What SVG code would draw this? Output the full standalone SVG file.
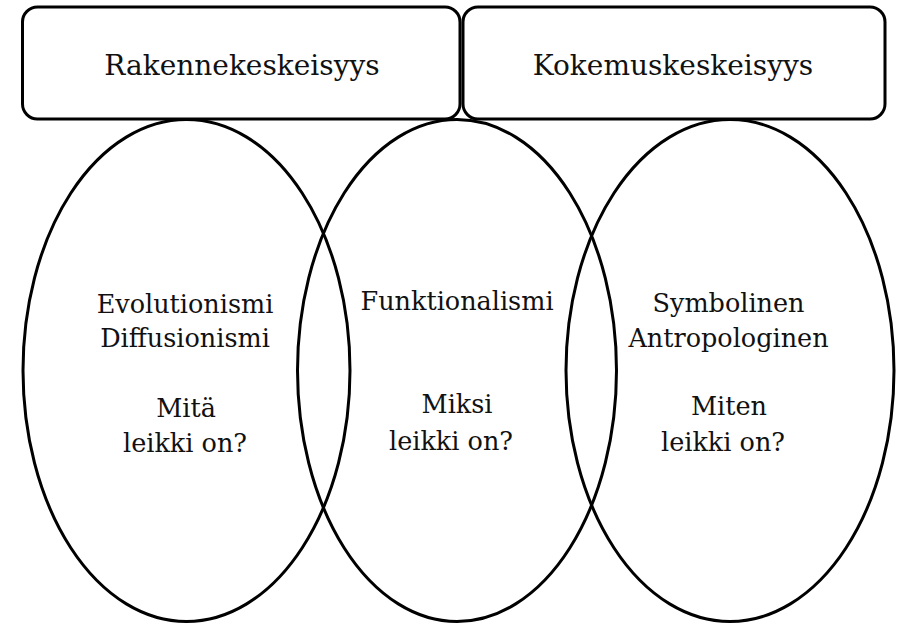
<svg xmlns="http://www.w3.org/2000/svg" width="899" height="624" viewBox="0 0 899 624">
<style>
.box{fill:#fff;stroke:#000;stroke-width:3}
.ell{fill:none;stroke:#000;stroke-width:3}
.t{font-family:"DejaVu Serif","Liberation Serif",serif;fill:#111;text-anchor:middle}
.h{font-size:28px}
.e{font-size:25.5px}
</style>
<rect width="899" height="624" fill="#fff"/>
<g id="rakennekeskeisyys">
<rect class="box" x="22.5" y="7" width="437.5" height="112" rx="15"/>
<text class="t h" x="242" y="75">Rakennekeskeisyys</text>
</g>
<g id="kokemuskeskeisyys">
<rect class="box" x="463" y="7" width="422" height="112" rx="15"/>
<text class="t h" x="673" y="75">Kokemuskeskeisyys</text>
</g>
<g id="evolutionismi">
<ellipse class="ell" cx="186.5" cy="370.5" rx="163.5" ry="251"/>
<text class="t e" x="185" y="313">Evolutionismi</text>
<text class="t e" x="185" y="347">Diffusionismi</text>
<text class="t e" x="186" y="417">Mitä</text>
<text class="t e" x="185" y="452">leikki on?</text>
</g>
<g id="funktionalismi">
<ellipse class="ell" cx="457" cy="370.5" rx="159.5" ry="251"/>
<text class="t e" x="457" y="310">Funktionalismi</text>
<text class="t e" x="457" y="413">Miksi</text>
<text class="t e" x="451" y="450">leikki on?</text>
</g>
<g id="symbolinen">
<ellipse class="ell" cx="730" cy="370.5" rx="164" ry="251"/>
<text class="t e" x="728.5" y="312">Symbolinen</text>
<text class="t e" x="728.5" y="347">Antropologinen</text>
<text class="t e" x="729" y="415">Miten</text>
<text class="t e" x="723" y="451">leikki on?</text>
</g>
<g id="connectors"/>
</svg>
